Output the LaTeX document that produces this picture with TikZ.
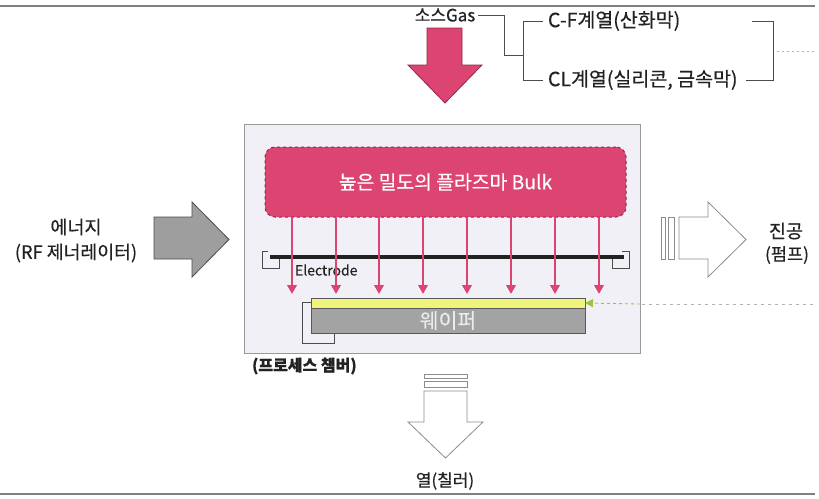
\documentclass[tikz,border=0pt]{standalone}
\usepackage{fontspec}
\setmainfont{Noto Sans CJK KR}[FakeBold=0.4]
\usetikzlibrary{arrows.meta}
\definecolor{pinkc}{HTML}{DC4472}
\definecolor{pinkdark}{HTML}{8E2A48}
\definecolor{chamberfill}{HTML}{F2F0F7}
\definecolor{framegray}{HTML}{808080}
\definecolor{wafery}{HTML}{EEF47C}
\definecolor{waferg}{HTML}{A3A3A3}
\definecolor{greenc}{HTML}{9CC43A}
\definecolor{txt}{HTML}{222222}
\tikzset{
  lbl/.style={text=txt, font=\fontsize{17}{19}\selectfont},
  pinkarrow/.style={draw=pinkc, line width=2.2pt, -{Triangle[width=9.5pt,length=9pt]}},
  bracketline/.style={draw=black!70, line width=0.8pt},
  hollow/.style={draw=black!45, fill=white, line width=0.8pt},
}
\begin{document}
\begin{tikzpicture}[x=1pt,y=-1pt, every node/.style={inner sep=0pt, outer sep=0pt}]
\useasboundingbox (0,0) rectangle (819,498);
\fill[white] (0,0) rectangle (819,498);
% frame lines
\draw[framegray, line width=2pt] (0,6) -- (815,6);
\draw[framegray, line width=2pt] (0,494) -- (815,494);

% chamber
\node[draw=black!40, fill=chamberfill, line width=1pt, minimum width=396pt, minimum height=229pt, anchor=north west] (chamber) at (244,124) {};
\node[anchor=west, text=txt, font=\bfseries\fontsize{16}{18}\selectfont] (chlabel) at (252,366) {(프로세스 챔버)};

% plasma
\node[draw=pinkdark, dashed, line width=1pt, fill=pinkc, rounded corners=10pt, minimum width=361pt, minimum height=70pt, anchor=north west, text=white, font=\fontsize{19.3}{21}\selectfont] (plasma) at (265,147) {높은 밀도의 플라즈마 Bulk};

% electrode
\draw[bracketline] (268,251) -- (262,251) -- (262,268) -- (279,268) -- (279,259);
\draw[bracketline] (622,251) -- (629,251) -- (629,268) -- (612,268) -- (612,259);
\coordinate (eL) at (270,257);
\coordinate (eR) at (624,257);
\draw[txt, line width=3.5pt] (eL) -- (eR);
\node[anchor=west, text=txt, font=\fontsize{14}{16}\selectfont] (electrode) at (295,270) {Electrode};

% wafer
\draw[bracketline] (311,302) -- (302,302) -- (302,343) -- (334,343) -- (334,333);
\node[draw=black!65, fill=wafery, line width=0.8pt, minimum width=274pt, minimum height=10pt, anchor=north west] (film) at (311,298) {};
\node[draw=black!65, fill=waferg, line width=0.8pt, minimum width=274pt, minimum height=25pt, anchor=north west, text=black!8, font=\fontsize{20.5}{22}\selectfont] (wafer) at (311,308) {웨이퍼};

% ion arrows
\foreach \x in {292,336,379,423,467,511,555,599}{
  \coordinate (t\x) at (\x,294);
  \draw[pinkarrow] (plasma.south -| t\x) -- (t\x);
}

% green dashed arrow
\coordinate (gstart) at (813,304);
\coordinate (gmid) at (640,304);
\draw[black!30, line width=0.8pt, dash pattern=on 3pt off 4pt] (gstart) -- (gmid);
\draw[greenc, line width=0.9pt, dash pattern=on 3pt off 3pt, -{Triangle[width=8pt,length=8pt]}] (gmid) -- (film.east);

% top gas arrow
\draw[draw=pinkdark, fill=pinkc, line width=0.8pt] (427,28) -- (462,28) -- (462,65) -- (482,65) -- (445,103) -- (408,65) -- (427,65) -- cycle;
\node[lbl] (gas) at (445,15) {소스Gas};
\node[lbl, anchor=west, font=\fontsize{19.5}{21}\selectfont] (cf) at (548,21) {C-F계열(산화막)};
\node[lbl, anchor=west, font=\fontsize{19.5}{21}\selectfont] (cl) at (548,80) {CL계열(실리콘, 금속막)};
\draw[bracketline] (gas.east) ++(3,0) -- (504,15) -- (504,55) -- (523,55);
\draw[bracketline] (543,21) -- (523,21) -- (523,80) -- (543,80);
\draw[bracketline] (752,21) -- (773,21) -- (773,80) -- (746,80);
\coordinate (dotend) at (815,51);
\draw[black!30, line width=0.8pt, dash pattern=on 2pt off 3pt] (777,51) -- (dotend);

% left energy arrow
\draw[draw=black!70, fill=black!38, line width=0.8pt] (154,217) -- (192,217) -- (192,202) -- (229,239.5) -- (192,277) -- (192,259) -- (154,259) -- cycle;
\node[lbl, font=\fontsize{18.5}{20}\selectfont] (en1) at (76,227) {에너지};
\node[lbl, font=\fontsize{18.3}{20}\selectfont] (en2) at (76,253) {(RF 제너레이터)};

% right vacuum arrow
\draw[hollow] (679,217) -- (708,217) -- (708,202) -- (746,239.5) -- (708,277) -- (708,259) -- (679,259) -- cycle;
\draw[hollow] (661,217) rectangle (665,259);
\draw[hollow] (668,217) rectangle (674,259);
\node[lbl, font=\fontsize{18.5}{20}\selectfont] (vac1) at (786,231) {진공};
\node[lbl, font=\fontsize{17.5}{19}\selectfont] (vac2) at (787,255) {(펌프)};

% bottom heat arrow
\draw[hollow] (424,374) rectangle (467,378);
\draw[hollow] (424,381) rectangle (467,387);
\draw[hollow] (424,391) -- (467,391) -- (467,422) -- (483,422) -- (445.5,458) -- (408,422) -- (424,422) -- cycle;
\node[lbl] (heat) at (445,481) {열(칠러)};
\end{tikzpicture}
\end{document}
